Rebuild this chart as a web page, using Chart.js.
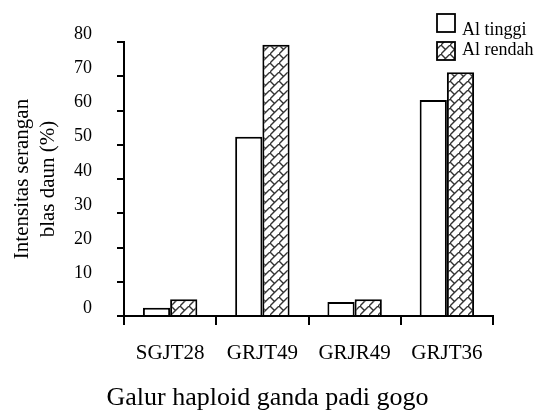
<!DOCTYPE html>
<html>
<head>
<meta charset="utf-8">
<script src="https://cdn.jsdelivr.net/npm/chart.js@4/dist/chart.umd.min.js"></script>
<style>
  html, body { margin: 0; padding: 0; background: #ffffff; }
  #wrap { width: 535px; height: 414px; }
</style>
</head>
<body>
<div id="wrap"><canvas id="c" width="535" height="414"></canvas></div>
<script>
const categories = ['SGJT28', 'GRJT49', 'GRJR49', 'GRJT36'];
const seriesNames = ['Al tinggi', 'Al rendah'];
const alTinggi = [2.4, 52.3, 4.1, 63.1];
const alRendah = [4.9, 79.2, 4.9, 71.2];
const yMin = 0, yMax = 80, yStep = 10;
const yTitle = ['Intensitas serangan', 'blas daun (%)'];
const xTitle = 'Galur haploid ganda padi gogo';

const FONT = "'Liberation Serif', 'Times New Roman', serif";

function makeHatch() {
  const s = 9;
  const cv = document.createElement('canvas');
  cv.width = s; cv.height = s;
  const g = cv.getContext('2d');
  g.fillStyle = '#ffffff';
  g.fillRect(0, 0, s, s);
  g.strokeStyle = '#333333';
  g.lineWidth = 1.4;
  g.beginPath();
  g.moveTo(-1, s + 1); g.lineTo(s + 1, -1);
  g.moveTo(0, 0); g.lineTo(s / 2, s / 2);
  g.stroke();
  return g.createPattern(cv, 'repeat');
}
const hatch = makeHatch();

const legendPlugin = {
  id: 'customLegend',
  afterDraw(chart) {
    const ctx = chart.ctx;
    const items = chart.data.datasets;
    const boxX = 437, boxW = 18;
    const boxY = [14, 42];
    const textY = [30, 50];
    ctx.save();
    items.forEach((ds, i) => {
      ctx.fillStyle = ds.backgroundColor;
      ctx.fillRect(boxX, boxY[i], boxW, boxW);
      ctx.lineWidth = 1.8;
      ctx.strokeStyle = '#000';
      ctx.strokeRect(boxX, boxY[i], boxW, boxW);
      ctx.fillStyle = '#000';
      ctx.font = '18px ' + FONT;
      ctx.textBaseline = 'middle';
      ctx.textAlign = 'left';
      ctx.fillText(ds.label, 462, textY[i]);
    });
    ctx.restore();
  }
};

new Chart(document.getElementById('c'), {
  type: 'bar',
  data: {
    labels: categories,
    datasets: [
      { label: seriesNames[0], data: alTinggi, backgroundColor: '#ffffff', borderColor: '#000', borderWidth: 2, yAxisID: 'y' },
      { label: seriesNames[1], data: alRendah, backgroundColor: hatch, borderColor: '#000', borderWidth: 2, yAxisID: 'y' }
    ]
  },
  options: {
    responsive: false,
    animation: false,
    devicePixelRatio: 1,
    layout: { padding: { top: 42, left: 0, right: 0, bottom: 0 } },
    datasets: { bar: { categoryPercentage: 0.59, barPercentage: 1.0 } },
    plugins: {
      legend: { display: false },
      tooltip: { enabled: false },
      title: {
        display: true,
        position: 'bottom',
        text: xTitle,
        color: '#000',
        font: { family: FONT, size: 26, weight: 'normal', lineHeight: 1.2 },
        padding: { top: 0, bottom: 0 }
      }
    },
    scales: {
      x: {
        offset: true,
        grid: { display: true, drawOnChartArea: false, drawTicks: true, tickLength: 9, color: '#000', lineWidth: 2, offset: true },
        border: { display: true, color: '#000', width: 2 },
        ticks: { color: '#000', font: { family: FONT, size: 21 }, padding: 16, maxRotation: 0, autoSkip: false },
        afterFit(s) { s.height = 414 - 316 - 31.2; }
      },
      y: {
        position: 'left',
        min: yMin, max: yMax,
        grid: { display: true, drawOnChartArea: false, drawTicks: true, tickLength: 7, color: '#000', lineWidth: 2 },
        border: { display: true, color: '#000', width: 2 },
        ticks: { stepSize: yStep, color: '#000', font: { family: FONT, size: 18 }, padding: 25, labelOffset: -8 },
        title: {
          display: true,
          text: yTitle,
          color: '#000',
          font: { family: FONT, size: 21, lineHeight: '26px' },
          padding: { top: 9, bottom: 0 }
        },
        afterFit(s) { s.width = 124; }
      },
      yr: {
        position: 'right',
        display: true,
        grid: { display: false },
        border: { display: false },
        ticks: { display: false },
        afterFit(s) { s.width = 42; }
      }
    }
  },
  plugins: [legendPlugin]
});
</script>
</body>
</html>
